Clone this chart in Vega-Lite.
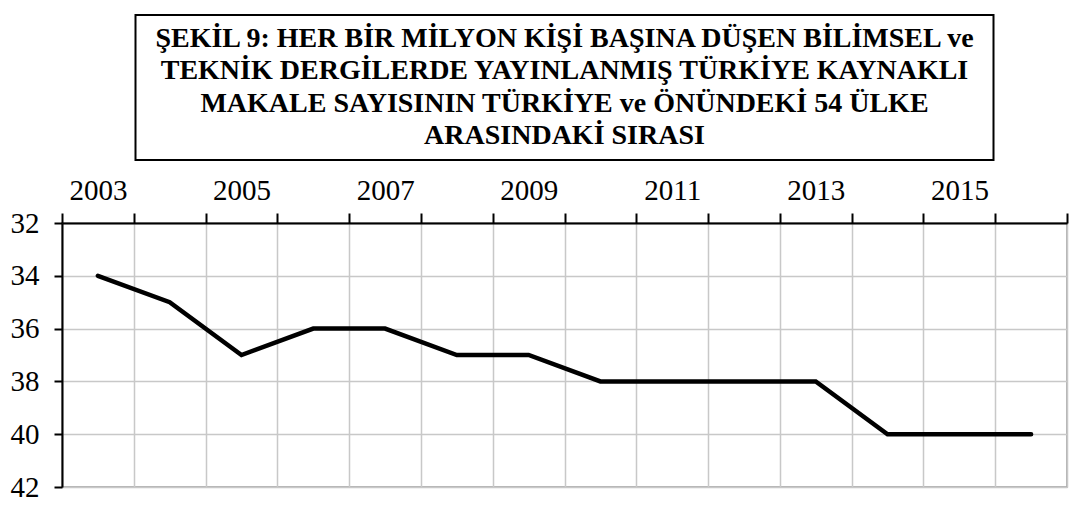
{
  "$schema": "https://vega.github.io/schema/vega-lite/v6.json",
  "padding": {"top": 14, "left": 9, "right": 5, "bottom": 5},
  "background": "white",
  "bounds": "flush",
  "center": true,
  "spacing": 63,
  "config": {
    "font": "Liberation Serif",
    "text": {"font": "Liberation Serif"},
    "axis": {"labelFont": "Liberation Serif", "labelColor": "black"}
  },
  "datasets": {
    "titleLines": [
      {"line": 1, "text": "ŞEKİL 9: HER BİR MİLYON KİŞİ BAŞINA DÜŞEN BİLİMSEL ve"},
      {"line": 2, "text": "TEKNİK DERGİLERDE YAYINLANMIŞ TÜRKİYE KAYNAKLI"},
      {"line": 3, "text": "MAKALE SAYISININ TÜRKİYE ve ÖNÜNDEKİ 54 ÜLKE"},
      {"line": 4, "text": "ARASINDAKİ SIRASI"}
    ],
    "rank": [
      {"year": 2003, "rank": 34},
      {"year": 2004, "rank": 35},
      {"year": 2005, "rank": 37},
      {"year": 2006, "rank": 36},
      {"year": 2007, "rank": 36},
      {"year": 2008, "rank": 37},
      {"year": 2009, "rank": 37},
      {"year": 2010, "rank": 38},
      {"year": 2011, "rank": 38},
      {"year": 2012, "rank": 38},
      {"year": 2013, "rank": 38},
      {"year": 2014, "rank": 40},
      {"year": 2015, "rank": 40},
      {"year": 2016, "rank": 40}
    ]
  },
  "vconcat": [
    {
      "width": 858,
      "height": 145,
      "view": {"stroke": "black", "strokeWidth": 2, "fill": "white"},
      "data": {"name": "titleLines"},
      "mark": {"type": "text", "font": "Liberation Serif", "fontWeight": 700, "fontSize": 28, "baseline": "middle", "align": "center", "color": "black"},
      "encoding": {
        "y": {"field": "line", "type": "ordinal", "axis": null, "scale": {"padding": 0.76}},
        "text": {"field": "text", "type": "nominal"}
      }
    },
    {
      "width": 1005,
      "height": 264,
      "view": {"stroke": "#9a9a9a", "strokeWidth": 1.5},
      "data": {"name": "rank"},
      "mark": {"type": "line", "color": "black", "strokeWidth": 4.5, "strokeCap": "round"},
      "encoding": {
        "x": {
          "field": "year", "type": "quantitative",
          "scale": {"domain": [2002.5, 2016.5], "nice": false, "zero": false},
          "axis": {
            "orient": "top", "title": null,
            "values": [2002.5, 2003.5, 2004.5, 2005.5, 2006.5, 2007.5, 2008.5, 2009.5, 2010.5, 2011.5, 2012.5, 2013.5, 2014.5, 2015.5, 2016.5],
            "labelExpr": "((datum.value + 0.5) % 2 == 1 && datum.value < 2016) ? format(datum.value + 0.5, 'd') : ''",
            "labelOffset": 36,
            "labelFlush": false,
            "labelOverlap": false,
            "labelBound": false,
            "labelFontSize": 29,
            "labelPadding": 8,
            "tickSize": 10,
            "tickColor": "black",
            "tickWidth": 2,
            "domainColor": "black",
            "domainWidth": 2,
            "grid": true,
            "gridColor": "#c8c8c8",
            "gridWidth": 1.5
          }
        },
        "y": {
          "field": "rank", "type": "quantitative",
          "scale": {"domain": [32, 42], "reverse": true, "nice": false, "zero": false},
          "axis": {
            "title": null,
            "values": [32, 34, 36, 38, 40, 42],
            "labelFontSize": 29,
            "labelPadding": 15,
            "tickSize": 8,
            "tickColor": "black",
            "tickWidth": 2,
            "domainColor": "black",
            "domainWidth": 2,
            "grid": true,
            "gridColor": "#c8c8c8",
            "gridWidth": 1.5
          }
        }
      }
    }
  ]
}
